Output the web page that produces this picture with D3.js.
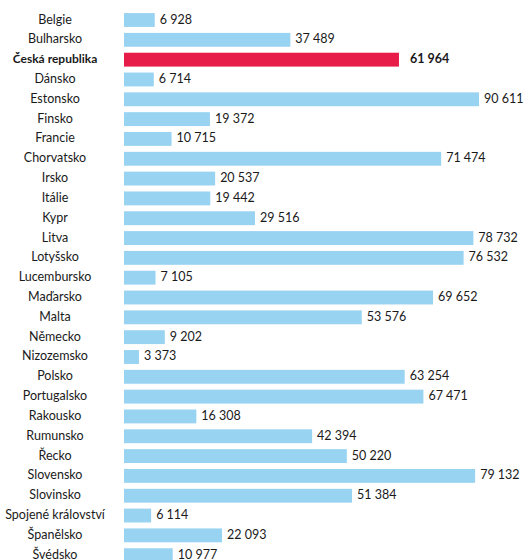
<!DOCTYPE html>
<html><head><meta charset="utf-8">
<script src="https://cdn.jsdelivr.net/npm/d3@7"></script>
<style>body{margin:0;background:#fff}svg{display:block}</style>
</head><body>
<svg id="c" width="524" height="560"></svg>
<script>
const categories = ["Belgie","Bulharsko","Česká republika","Dánsko","Estonsko","Finsko","Francie","Chorvatsko","Irsko","Itálie","Kypr","Litva","Lotyšsko","Lucembursko","Maďarsko","Malta","Německo","Nizozemsko","Polsko","Portugalsko","Rakousko","Rumunsko","Řecko","Slovensko","Slovinsko","Spojené království","Španělsko","Švédsko"];
const values = [6928,37489,61964,6714,90611,19372,10715,71474,20537,19442,29516,78732,76532,7105,69652,53576,9202,3373,63254,67471,16308,42394,50220,79132,51384,6114,22093,10977];
const highlight = "Česká republika";
const axisMax = 80000;

const data = categories.map((c,i)=>({c, v: values[i]}));
const svg = d3.select("#c");
const x = d3.scaleLinear().domain([0, axisMax]).range([124, 479]).clamp(true);
const y = d3.scaleBand().domain(categories).range([10.1, 565.1]).paddingInner(0.3).paddingOuter(0.15);
const fmt = d3.formatLocale({decimal:",", thousands:" ", grouping:[3], currency:["",""]}).format(",d");
const font = "Lato, 'Open Sans', sans-serif";

svg.selectAll("rect.bar").data(data).join("rect")
  .attr("class","bar")
  .attr("x", x(0))
  .attr("y", d=>y(d.c))
  .attr("width", d=>x(d.v)-x(0))
  .attr("height", y.bandwidth())
  .attr("fill", d=>d.c===highlight ? "#e81c48" : "#99d3f2");

svg.selectAll("text.cat").data(data).join("text")
  .attr("class","cat")
  .attr("x", 55)
  .attr("y", d=>y(d.c)+y.bandwidth()/2)
  .attr("dy","0.28em")
  .attr("text-anchor","middle")
  .attr("font-family", font)
  .attr("font-size", d=>d.c===highlight ? 12 : 12.5)
  .attr("font-weight", d=>d.c===highlight ? "bold" : "normal")
  .attr("fill","#1a1a1a")
  .text(d=>d.c);

svg.selectAll("text.val").data(data).join("text")
  .attr("class","val")
  .attr("x", d=>x(d.v) + (d.c===highlight ? 11 : 5))
  .attr("y", d=>y(d.c)+y.bandwidth()/2)
  .attr("dy","0.28em")
  .attr("font-family", font)
  .attr("font-size", 12.5)
  .attr("font-weight", d=>d.c===highlight ? "bold" : "normal")
  .attr("fill","#1a1a1a")
  .text(d=>fmt(d.v));
</script>
</body></html>
